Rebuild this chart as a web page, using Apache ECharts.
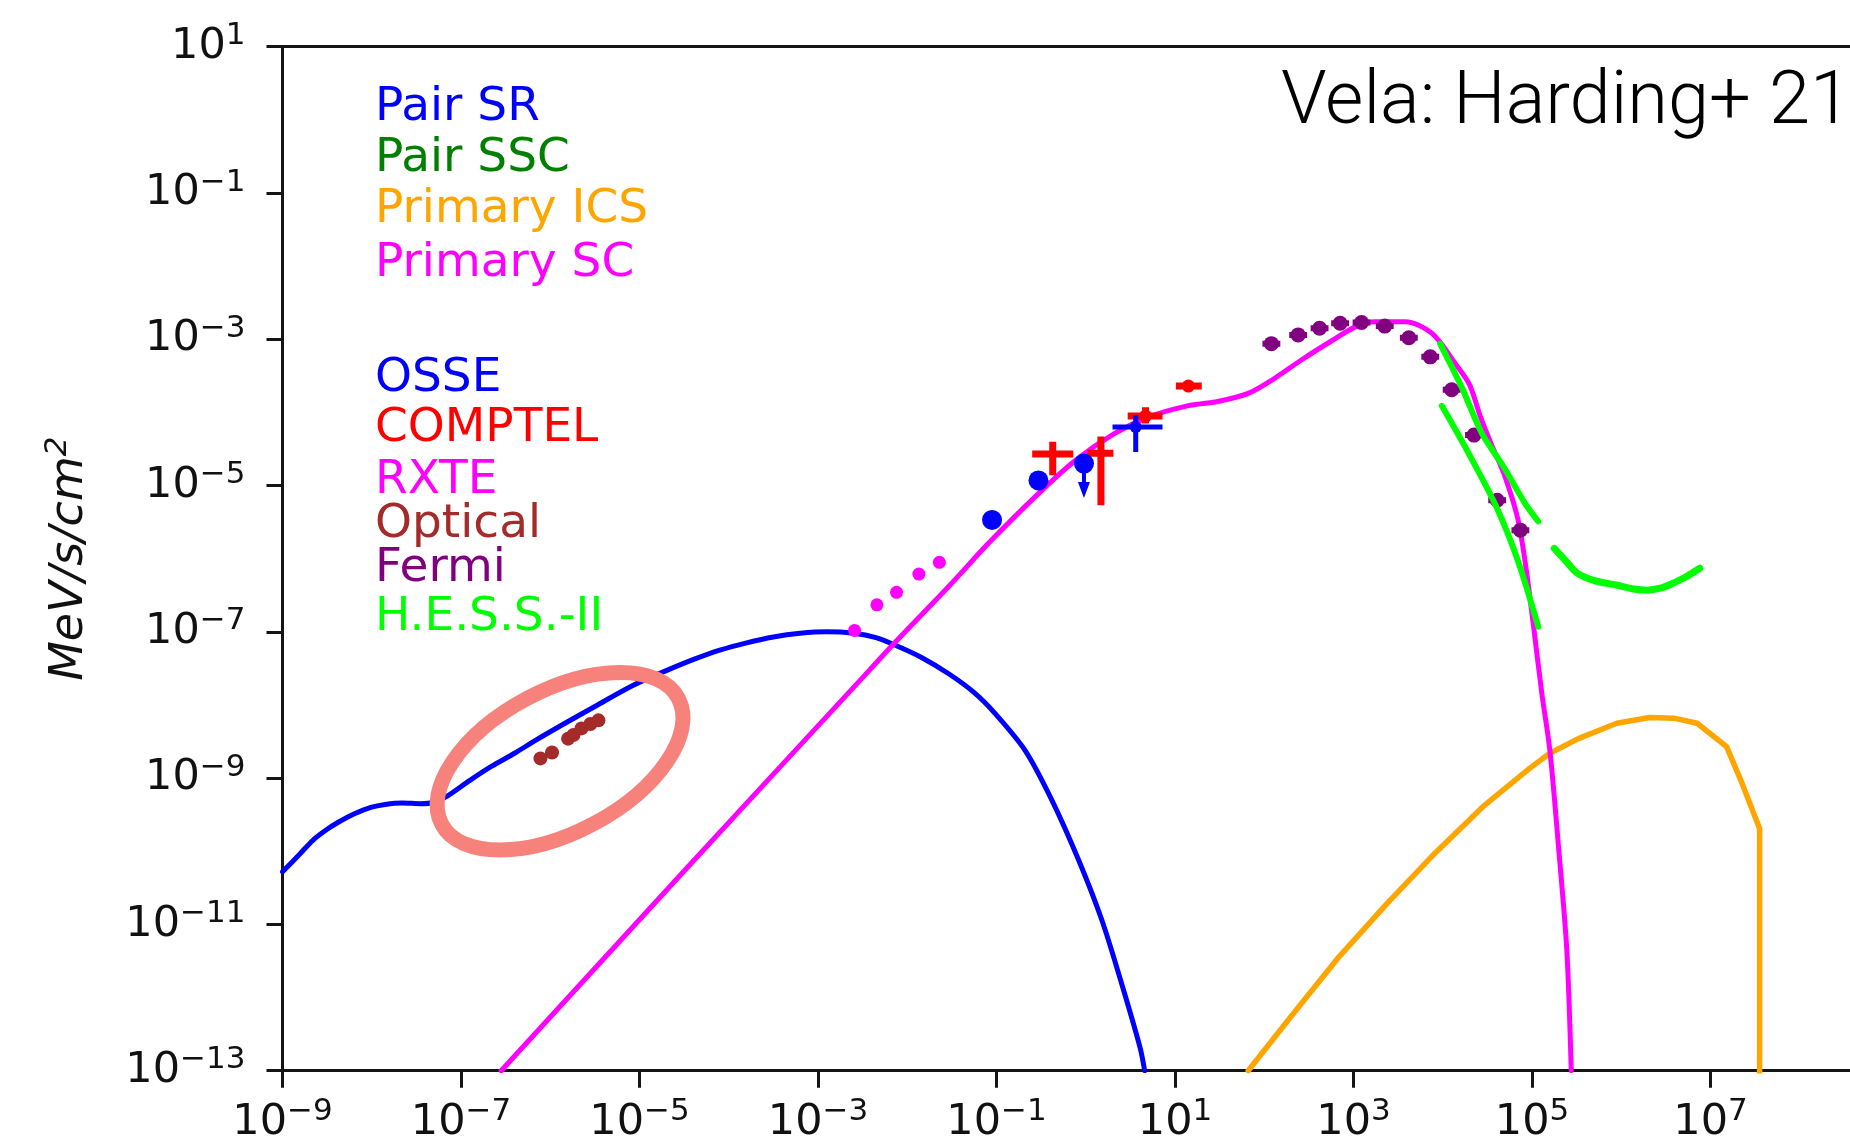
<!DOCTYPE html>
<html>
<head>
<meta charset="utf-8">
<title>Vela SED</title>
<script src="https://cdn.jsdelivr.net/npm/echarts@6/dist/echarts.min.js"></script>
<style>
  html, body { margin: 0; padding: 0; background: #ffffff; }
  #chart { width: 1850px; height: 1148px; }
</style>
</head>
<body>
<div id="chart"></div>
<script>
// All values are log10: energy in MeV on x, E^2 dN/dE in MeV/s/cm^2 on y.

// Axis ticks (exponents of ten)
const xTickExps = [-9, -7, -5, -3, -1, 1, 3, 5, 7];
const yTickExps = [-13, -11, -9, -7, -5, -3, -1, 1];

// Model curves
const pairSrLogE = [-9.00, -8.80, -8.66, -8.50, -8.37, -8.20, -8.01, -7.85, -7.66, -7.45, -7.30, -7.16, -6.90, -6.66, -6.40, -6.16, -5.82, -5.50, -5.07, -4.70, -4.40, -4.10, -3.80, -3.50, -3.20, -2.90, -2.60, -2.35, -2.14, -1.84, -1.54, -1.25, -1.02, -0.68, -0.38, -0.08, 0.18, 0.39, 0.61, 0.66];
const pairSrLogF = [-10.28, -10.03, -9.85, -9.70, -9.60, -9.49, -9.40, -9.36, -9.34, -9.35, -9.33, -9.25, -9.03, -8.84, -8.66, -8.48, -8.24, -8.02, -7.73, -7.53, -7.38, -7.25, -7.15, -7.07, -7.02, -7.00, -7.02, -7.08, -7.18, -7.35, -7.57, -7.83, -8.11, -8.62, -9.30, -10.12, -10.94, -11.76, -12.69, -13.00];

const primScLogE = [-6.55, -4.50, -2.42, -2.14, -1.52, -1.09, -0.53, -0.11, 0.32, 0.71, 1.14, 1.48, 1.82, 2.12, 2.42, 2.77, 3.02, 3.24, 3.58, 3.88, 4.14, 4.30, 4.42, 4.55, 4.69, 4.84, 4.93, 5.02, 5.11, 5.20, 5.30, 5.39, 5.44];
const primScLogF = [-13.00, -10.27, -7.52, -7.15, -6.36, -5.79, -5.11, -4.65, -4.29, -4.06, -3.91, -3.85, -3.74, -3.53, -3.28, -3.01, -2.83, -2.76, -2.76, -2.92, -3.33, -3.62, -4.05, -4.45, -4.85, -5.45, -6.10, -6.95, -7.84, -8.62, -9.98, -11.35, -13.00];

const primIcsLogE = [1.82, 2.30, 2.84, 3.38, 3.91, 4.45, 4.98, 5.20, 5.52, 5.95, 6.32, 6.59, 6.85, 7.18, 7.34, 7.55, 7.55];
const primIcsLogF = [-13.00, -12.26, -11.44, -10.71, -10.03, -9.39, -8.86, -8.66, -8.46, -8.25, -8.17, -8.18, -8.25, -8.57, -9.03, -9.69, -13.50];

// H.E.S.S.-II spectral bands
const hessUpperLogE = [3.97, 4.21, 4.44, 4.68, 4.92, 5.07];
const hessUpperLogF = [-3.06, -3.65, -4.29, -4.74, -5.24, -5.49];
const hessLowerLogE = [3.99, 4.29, 4.60, 4.84, 5.07];
const hessLowerLogF = [-3.91, -4.56, -5.29, -6.02, -6.93];
const hessSensLogE = [5.25, 5.40, 5.51, 5.70, 5.94, 6.12, 6.29, 6.45, 6.57, 6.72, 6.88];
const hessSensLogF = [-5.86, -6.06, -6.20, -6.30, -6.36, -6.41, -6.43, -6.40, -6.34, -6.25, -6.13];

// Measurements
const opticalLogE = [-6.11, -5.98, -5.80, -5.74, -5.65, -5.55, -5.46];
const opticalLogF = [-8.73, -8.65, -8.46, -8.41, -8.32, -8.26, -8.21];

const rxteLogE = [-2.59, -2.34, -2.12, -1.87, -1.64];
const rxteLogF = [-6.98, -6.63, -6.46, -6.21, -6.05];

const osseLogE = [-1.05, -0.53, -0.02];
const osseLogF = [-5.47, -4.93, -4.70];
const osseLimitLogE = [-0.02];
const osseLimitLogF = [-4.70];
const osseLimitEndLogF = [-5.17];
const osseBarLogE = [0.56];
const osseBarLogF = [-4.20];
const osseBarLogELo = [0.30];
const osseBarLogEHi = [0.86];
const osseBarLogFLo = [-4.54];
const osseBarLogFHi = [-4.04];

const comptelLogE = [-0.37, 0.17, 0.67, 1.15];
const comptelLogF = [-4.57, -4.56, -4.05, -3.64];
const comptelLogELo = [-0.60, 0.02, 0.47, 1.01];
const comptelLogEHi = [-0.14, 0.31, 0.86, 1.30];
const comptelLogFLo = [-4.86, -5.27, -4.15, -3.68];
const comptelLogFHi = [-4.40, -4.33, -3.93, -3.60];

const fermiLogE = [2.08, 2.38, 2.62, 2.85, 3.09, 3.35, 3.62, 3.86, 4.10, 4.35, 4.61, 4.87];
const fermiLogF = [-3.06, -2.94, -2.85, -2.78, -2.77, -2.82, -2.98, -3.24, -3.69, -4.31, -5.20, -5.61];
const fermiLogEErr = [0.10, 0.10, 0.10, 0.10, 0.10, 0.10, 0.10, 0.10, 0.10, 0.10, 0.10, 0.10];
const fermiLogFErr = [0.06, 0.06, 0.06, 0.06, 0.06, 0.06, 0.06, 0.06, 0.06, 0.06, 0.06, 0.06];

// Highlighted optical region
const highlightLogE = -5.89;
const highlightLogF = -8.77;

// Legend text
const legendTop = ['Pair SR', 'Pair SSC', 'Primary ICS', 'Primary SC'];
const legendBottom = ['OSSE', 'COMPTEL', 'RXTE', 'Optical', 'Fermi', 'H.E.S.S.-II'];
const titleText = 'Vela: Harding+ 21';

// ---- styling ----
const C = {
  blue: '#0000ff', green: '#008000', orange: '#ffa500', magenta: '#ff00ff',
  red: '#ff0000', brown: '#a52a2a', purple: '#800080', lime: '#00ff00', axis: '#151515'
};
const legendTopColors = [C.blue, C.green, C.orange, C.magenta];
const legendBottomColors = [C.blue, C.red, C.magenta, C.brown, C.purple, C.lime];
const legendTopBaselines = [120, 171, 222, 276];
const legendBottomBaselines = [391, 441, 493, 537, 581, 630];

const pairs = (xs, ys) => xs.map((x, i) => [x, ys[i]]);

function supLabel(v) {
  const s = v < 0 ? '\u2212' + (-v) : String(v);
  return '{b|10}{s|' + s + '}';
}
const tickRich = {
  b: { fontFamily: 'DejaVu Sans', fontSize: 43, lineHeight: 52, color: '#111' },
  s: { fontFamily: 'DejaVu Sans', fontSize: 31, lineHeight: 31, verticalAlign: 'top', color: '#111' }
};

function lineSeries(name, xs, ys, color, width, z, smooth) {
  return {
    type: 'line', name, data: pairs(xs, ys), showSymbol: false, symbol: 'none',
    smooth: smooth || false, clip: true, z,
    lineStyle: { color, width, cap: 'round', join: 'round' }, silent: true
  };
}

// error bars: rows of [e, f, eLo, eHi, fLo, fHi]
function errorBars(name, rows, color, width, z) {
  return {
    type: 'custom', name, z, clip: true, silent: true, data: rows,
    renderItem(params, api) {
      const e = api.value(0), f = api.value(1);
      const a = api.coord([api.value(2), f]), b = api.coord([api.value(3), f]);
      const c = api.coord([e, api.value(4)]), d = api.coord([e, api.value(5)]);
      const st = { stroke: color, lineWidth: width, lineCap: 'butt' };
      return {
        type: 'group', children: [
          { type: 'line', shape: { x1: a[0], y1: a[1], x2: b[0], y2: b[1] }, style: st },
          { type: 'line', shape: { x1: c[0], y1: c[1], x2: d[0], y2: d[1] }, style: st }
        ]
      };
    }
  };
}

function points(name, xs, ys, color, size, z) {
  return {
    type: 'scatter', name, data: pairs(xs, ys), z, silent: true,
    symbol: 'circle', symbolSize: size, itemStyle: { color, opacity: 1 }
  };
}

const comptelRows = comptelLogE.map((e, i) => [e, comptelLogF[i], comptelLogELo[i], comptelLogEHi[i], comptelLogFLo[i], comptelLogFHi[i]]);
const osseBarRows = osseBarLogE.map((e, i) => [e, osseBarLogF[i], osseBarLogELo[i], osseBarLogEHi[i], osseBarLogFLo[i], osseBarLogFHi[i]]);
const fermiRows = fermiLogE.map((e, i) => [e, fermiLogF[i], e - fermiLogEErr[i], e + fermiLogEErr[i], fermiLogF[i] - fermiLogFErr[i], fermiLogF[i] + fermiLogFErr[i]]);
const osseLimitRows = osseLimitLogE.map((e, i) => [e, osseLimitLogF[i], osseLimitEndLogF[i]]);

const chart = echarts.init(document.getElementById('chart'), null, { renderer: 'canvas', width: 1850, height: 1148 });

// The plot is cut at the right edge of the page: 89.25 px per decade from 1e-9 at x = 282.5
const X_MIN = -9, X_MAX = -9 + (1850 - 282.5) / 89.25;

const option = {
  animation: false,
  backgroundColor: '#ffffff',
  grid: { left: 282.5, top: 46.7, right: 0, height: 1024, show: false },
  xAxis: [{
    type: 'value', min: X_MIN, max: X_MAX, interval: 2,
    axisLine: { show: true, onZero: false, lineStyle: { color: C.axis, width: 3 } },
    axisTick: { show: true, length: 17, customValues: xTickExps, lineStyle: { color: C.axis, width: 3 } },
    splitLine: { show: false },
    axisLabel: {
      margin: 26, customValues: xTickExps,
      formatter: v => xTickExps.includes(v) ? supLabel(v) : '',
      rich: tickRich
    }
  }, {
    type: 'value', position: 'top', min: X_MIN, max: X_MAX,
    axisLine: { show: true, onZero: false, lineStyle: { color: C.axis, width: 3 } },
    axisTick: { show: false }, axisLabel: { show: false }, splitLine: { show: false }
  }],
  yAxis: {
    type: 'value', min: -13, max: 1, interval: 2,
    axisLine: { show: true, onZero: false, lineStyle: { color: C.axis, width: 3 } },
    axisTick: { show: true, length: 16, customValues: yTickExps, lineStyle: { color: C.axis, width: 3 } },
    splitLine: { show: false },
    axisLabel: {
      margin: 37, customValues: yTickExps, showMinLabel: true, showMaxLabel: true,
      formatter: v => yTickExps.includes(v) ? supLabel(v) : '',
      rich: tickRich
    },
    name: '{i|MeV/s/cm}{s|2}',
    nameLocation: 'middle', nameRotate: 90, nameGap: 184,
    nameTextStyle: {
      rich: {
        i: { fontFamily: 'DejaVu Sans', fontStyle: 'italic', fontSize: 46, lineHeight: 56, color: '#111' },
        s: { fontFamily: 'DejaVu Sans', fontStyle: 'italic', fontSize: 31, lineHeight: 31, verticalAlign: 'top', color: '#111' }
      }
    }
  },
  series: [
    lineSeries('Pair SR', pairSrLogE, pairSrLogF, C.blue, 5, 2, 0.3),
    lineSeries('Primary ICS', primIcsLogE, primIcsLogF, C.orange, 5.5, 2, false),
    lineSeries('Primary SC', primScLogE, primScLogF, C.magenta, 5, 3, 0.3),
    points('Optical', opticalLogE, opticalLogF, C.brown, 14, 5),
    points('RXTE', rxteLogE, rxteLogF, C.magenta, 13, 5),
    errorBars('COMPTEL', comptelRows, C.red, 7, 6),
    points('COMPTEL', comptelLogE.slice(2), comptelLogF.slice(2), C.red, 13, 6),
    errorBars('OSSE', osseBarRows, C.blue, 5, 7),
    {
      type: 'custom', name: 'OSSE', z: 7, clip: true, silent: true, data: osseLimitRows,
      renderItem(params, api) {
        const p = api.coord([api.value(0), api.value(1)]);
        const q = api.coord([api.value(0), api.value(2)]);
        return {
          type: 'group', children: [
            { type: 'line', shape: { x1: p[0], y1: p[1], x2: q[0], y2: q[1] - 8 }, style: { stroke: C.blue, lineWidth: 4 } },
            { type: 'polygon', shape: { points: [[q[0] - 6, q[1] - 16], [q[0] + 6, q[1] - 16], [q[0], q[1]]] }, style: { fill: C.blue } }
          ]
        };
      }
    },
    points('OSSE', osseLogE, osseLogF, C.blue, 20, 7),
    points('OSSE', osseBarLogE, osseBarLogF, C.blue, 12, 7),
    errorBars('Fermi', fermiRows, C.purple, 6, 8),
    points('Fermi', fermiLogE, fermiLogF, C.purple, 15, 8),
    lineSeries('H.E.S.S.-II', hessUpperLogE, hessUpperLogF, C.lime, 6, 9, 0.3),
    lineSeries('H.E.S.S.-II', hessLowerLogE, hessLowerLogF, C.lime, 6, 9, 0.3),
    lineSeries('H.E.S.S.-II', hessSensLogE, hessSensLogF, C.lime, 7, 9, 0.3)
  ]
};

chart.setOption(option);

// Text block in the upper left, title at the upper right, and the highlight ring
const graphics = [];
const legendFont = { fontFamily: 'DejaVu Sans', fontSize: 47 };
const LEGEND_MID = 0.27 * 47;
legendTop.forEach((t, i) => graphics.push({
  type: 'text', x: 375, y: legendTopBaselines[i] - LEGEND_MID, z: 20, silent: true,
  style: Object.assign({ text: t, fill: legendTopColors[i], align: 'left', verticalAlign: 'middle' }, legendFont)
}));
legendBottom.forEach((t, i) => graphics.push({
  type: 'text', x: 375, y: legendBottomBaselines[i] - LEGEND_MID, z: 20, silent: true,
  style: Object.assign({ text: t, fill: legendBottomColors[i], align: 'left', verticalAlign: 'middle' }, legendFont)
}));
graphics.push({
  type: 'text', x: 1851, y: 104, z: 20, silent: true,
  style: { text: titleText, fill: '#000', align: 'right', verticalAlign: 'middle', fontFamily: 'Roboto', fontWeight: 300, fontSize: 74 }
});
const hc = chart.convertToPixel({ xAxisIndex: 0, yAxisIndex: 0 }, [highlightLogE, highlightLogF]);
graphics.push({
  type: 'ellipse', x: hc[0], y: hc[1], rotation: 28 * Math.PI / 180, z: 30, silent: true,
  shape: { cx: 0, cy: 0, rx: 134, ry: 71 },
  style: { fill: 'none', stroke: '#f6827b', lineWidth: 15 }
});
chart.setOption({ graphic: graphics });
</script>
</body>
</html>
